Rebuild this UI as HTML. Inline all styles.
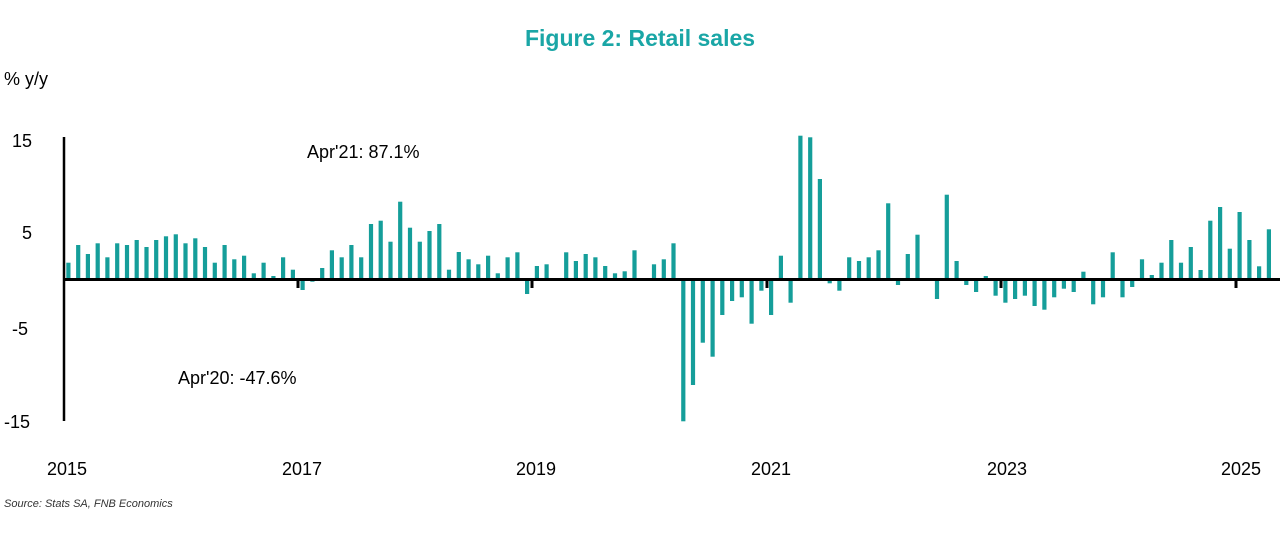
<!DOCTYPE html>
<html><head><meta charset="utf-8"><style>
body{margin:0;background:#fff;width:1280px;height:544px;overflow:hidden;font-family:"Liberation Sans",sans-serif}
</style></head><body>
<svg width="1280" height="544" xmlns="http://www.w3.org/2000/svg" font-family="Liberation Sans, sans-serif">
<text x="640" y="46" text-anchor="middle" font-size="23" font-weight="bold" fill="#1aa6a6">Figure 2: Retail sales</text>
<text x="4" y="85" font-size="18" fill="#000">% y/y</text>
<g font-size="18" fill="#000">
<text x="12" y="147">15</text><text x="22" y="239">5</text><text x="12" y="335">-5</text><text x="4" y="428">-15</text>
</g>
<g font-size="18" fill="#000" text-anchor="middle">
<text x="67" y="475">2015</text><text x="302" y="475">2017</text><text x="536" y="475">2019</text><text x="771" y="475">2021</text><text x="1007" y="475">2023</text><text x="1241" y="475">2025</text>
</g>
<text x="307" y="158" font-size="18">Apr'21: 87.1%</text>
<text x="178" y="384" font-size="18">Apr'20: -47.6%</text>
<text x="4" y="507" font-size="11" font-style="italic" fill="#333">Source: Stats SA, FNB Economics</text>
<g id="bars" fill="#159e9a"></g>
<line x1="64" y1="137" x2="64" y2="421" stroke="#000" stroke-width="2.5"/>
<line x1="63" y1="279.5" x2="1280" y2="279.5" stroke="#000" stroke-width="3"/>
<g stroke="#000" stroke-width="3">
<line x1="298" y1="280" x2="298" y2="288"/><line x1="532" y1="280" x2="532" y2="288"/><line x1="767" y1="280" x2="767" y2="288"/><line x1="1001" y1="280" x2="1001" y2="288"/><line x1="1236" y1="280" x2="1236" y2="288"/>
</g>
</svg>
<script>
var v=[262.7,245,254,243.3,257.3,243.3,245,240,247,240,236.3,234.3,243.3,238.3,247,262.7,245,259.3,255.7,273.3,262.7,276,257.3,269.7,-290,-281.7,268,250.3,257.3,245,257.3,224,220.7,241.7,201.7,227.7,241.7,231,224,269.7,252,259.3,264.3,
255.7,273.3,257.3,252.3,-294,266,264.3,278,252.3,261,254,257.3,266,273.3,271.3,250.3,-281,264.3,259.3,243.3,-421.3,-385,-342.7,-356.7,-315,-301,-297.3,-323.7,-290.7,-315,255.7,-302.7,135.7,137.3,179,-283.3,-290.7,257.3,261,257.3,250.3,
203.3,-285,254,234.7,278,-299,194.7,261,-285,-292,276,-295.7,-302.7,-299,-295.7,-306,-309.7,-297.3,-288.7,-292,271.7,-304.3,-297.3,252.3,-297.3,-287,259.3,275,262.7,240,262.7,247,270,220.7,207,248.7,212,240,266.3,229.3];
var g=document.getElementById('bars'),s='';
for(var i=0;i<v.length;i++){var x=66.3+9.76*i,y,h;
if(v[i]>0){y=v[i];h=280-y;}else{y=279;h=-v[i]-279;}
s+='<rect x="'+x.toFixed(1)+'" y="'+y+'" width="4.2" height="'+Math.max(h,0.5).toFixed(1)+'"/>';}
g.innerHTML=s;
</script>
</body></html>
